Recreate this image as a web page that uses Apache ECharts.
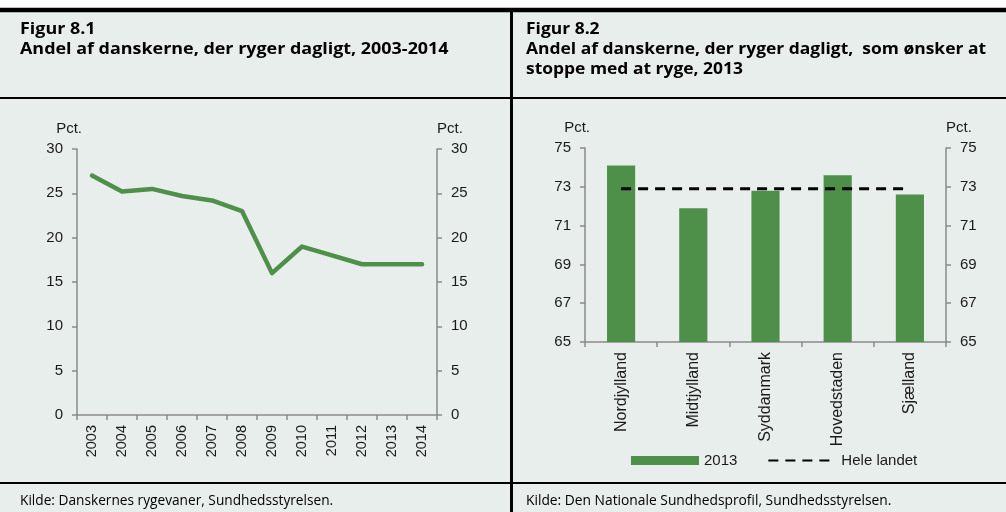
<!DOCTYPE html>
<html>
<head>
<meta charset="utf-8">
<script src="https://cdn.jsdelivr.net/npm/echarts@6/dist/echarts.min.js"></script>
<style>
  html, body { margin: 0; padding: 0; background: #ffffff; }
  #chart { width: 1006px; height: 512px; }
</style>
</head>
<body>
<div id="chart"></div>
<script>
// Figur 8.1: share of Danes smoking daily, 2003-2014
const years = ['2003', '2004', '2005', '2006', '2007', '2008', '2009', '2010', '2011', '2012', '2013', '2014'];
const dailySmokers = [27, 25.2, 25.5, 24.7, 24.2, 23, 16, 19, 18, 17, 17, 17];
const leftTicks = { min: 0, max: 30, interval: 5 };

// Figur 8.2: daily smokers who want to quit, by region, 2013
const regions = ['Nordjylland', 'Midtjylland', 'Syddanmark', 'Hovedstaden', 'Sjælland'];
const wantToQuit2013 = [74.1, 71.9, 72.8, 73.6, 72.6];
const nationalAverage = [72.9, 72.9, 72.9, 72.9, 72.9];
const rightTicks = { min: 65, max: 75, interval: 2 };

const GREEN = '#4e8f4a';
const BG = '#e8eeeb';
const AXIS = '#8a8a8a';
const TXT = '#1a1a1a';
const SANS = '"Liberation Sans", Arial, sans-serif';
const TITLE_FONT = '"Open Sans", Lato, sans-serif';

const chart = echarts.init(document.getElementById('chart'), null, { renderer: 'canvas' });

const axisLine = { show: true, lineStyle: { color: AXIS, width: 1.5 } };
const axisTick = { show: true, length: 5, lineStyle: { color: AXIS, width: 1.5 } };

function valueAxis(grid, pos, ticks, nameAlign, namePad) {
  return {
    type: 'value', gridIndex: grid, position: pos,
    min: ticks.min, max: ticks.max, interval: ticks.interval,
    name: 'Pct.', nameLocation: 'end', nameGap: 13,
    nameTextStyle: { color: TXT, fontFamily: SANS, fontSize: 15, align: nameAlign, padding: namePad },
    axisLine: axisLine, axisTick: axisTick,
    axisLabel: { margin: 14, color: TXT, fontFamily: SANS, fontSize: 15 },
    splitLine: { show: false }
  };
}

function lineSeg(x1, y1, x2, y2, w) {
  return { type: 'line', shape: { x1: x1, y1: y1, x2: x2, y2: y2 }, style: { stroke: '#000', lineWidth: w }, silent: true };
}

// headings are set a little wide, like condensed Calibri stretched to the panel
function text(x, y, str, font, size, weight, sx) {
  return {
    type: 'text', x: x, y: y, scaleX: sx, silent: true,
    style: { text: str, fill: '#000', font: weight + ' ' + size + 'px ' + font, textVerticalAlign: 'top' }
  };
}

const option = {
  backgroundColor: 'transparent',
  animation: false,
  graphic: [
    { type: 'rect', shape: { x: 0, y: 8, width: 1006, height: 504 }, style: { fill: BG }, silent: true, z: -10 },
    lineSeg(0, 10, 1006, 10, 4.5),
    lineSeg(0, 98, 1006, 98, 2),
    lineSeg(0, 483, 1006, 483, 2),
    lineSeg(511.5, 10, 511.5, 512, 3),
    text(20, 21, 'Figur 8.1', TITLE_FONT, 16, 'bold', 1.12),
    text(20, 41, 'Andel af danskerne, der ryger dagligt, 2003-2014', TITLE_FONT, 16, 'bold', 1.12),
    text(526, 21, 'Figur 8.2', TITLE_FONT, 16, 'bold', 1.09),
    text(526, 41, 'Andel af danskerne, der ryger dagligt,  som ønsker at', TITLE_FONT, 16, 'bold', 1.09),
    text(526, 61, 'stoppe med at ryge, 2013', TITLE_FONT, 16, 'bold', 1.09),
    text(20, 494, 'Kilde: Danskernes rygevaner, Sundhedsstyrelsen.', TITLE_FONT, 13.7, 'normal', 1),
    text(526, 494, 'Kilde: Den Nationale Sundhedsprofil, Sundhedsstyrelsen.', TITLE_FONT, 13.8, 'normal', 1)
  ],
  grid: [
    { left: 77, top: 149, width: 360, height: 266 },
    { left: 585, top: 148, width: 361, height: 194 }
  ],
  legend: {
    left: 626, top: 448,
    itemWidth: 68, itemHeight: 9, itemGap: 30,
    textStyle: { color: TXT, fontFamily: SANS, fontSize: 15 },
    data: [
      { name: '2013', icon: 'rect' },
      { name: 'Hele landet', itemStyle: { opacity: 0 } }
    ]
  },
  xAxis: [
    {
      type: 'category', gridIndex: 0, data: years, boundaryGap: true,
      axisLine: axisLine,
      axisTick: Object.assign({ interval: 0 }, axisTick),
      axisLabel: { rotate: 90, margin: 10, interval: 0, color: TXT, fontFamily: SANS, fontSize: 14.5 }
    },
    {
      type: 'category', gridIndex: 1, data: regions, boundaryGap: true,
      axisLine: axisLine,
      axisTick: Object.assign({ interval: 0 }, axisTick),
      axisLabel: { rotate: 90, margin: 10, interval: 0, color: TXT, fontFamily: SANS, fontSize: 16 }
    }
  ],
  yAxis: [
    valueAxis(0, 'left', leftTicks, 'right', [0, -5, 0, 0]),
    valueAxis(0, 'right', leftTicks, 'left', [0, 0, 0, 0]),
    valueAxis(1, 'left', rightTicks, 'right', [0, -5, 0, 0]),
    valueAxis(1, 'right', rightTicks, 'left', [0, 0, 0, 0])
  ],
  series: [
    {
      name: 'Andel', type: 'line', xAxisIndex: 0, yAxisIndex: 0,
      data: dailySmokers, symbol: 'none',
      lineStyle: { color: GREEN, width: 4.5, cap: 'round', join: 'round' }
    },
    {
      name: '2013', type: 'bar', xAxisIndex: 1, yAxisIndex: 2,
      data: wantToQuit2013, barWidth: '39%',
      itemStyle: { color: GREEN }
    },
    {
      name: 'Hele landet', type: 'line', xAxisIndex: 1, yAxisIndex: 2,
      data: nationalAverage, symbol: 'none',
      itemStyle: { color: '#000' },
      lineStyle: { color: '#000', width: 3, type: [10, 7] }
    }
  ]
};

chart.setOption(option);
</script>
</body>
</html>
